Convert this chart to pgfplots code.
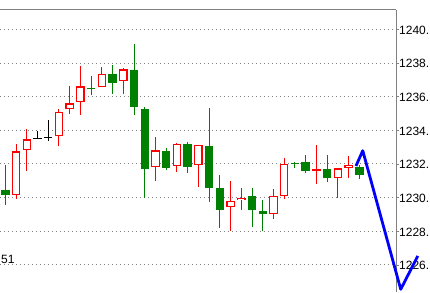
\documentclass[border=0pt]{standalone}
\usepackage{fontspec}
\setmainfont{Liberation Sans}
\usepackage{pgfplots}
\usepackage{pgfplotstable}
\pgfplotsset{compat=1.18}
\definecolor{cgreen}{RGB}{0,128,0}
\definecolor{cred}{RGB}{255,0,0}
\definecolor{cblue}{RGB}{0,0,255}
\definecolor{cgray}{RGB}{128,128,128}

% rising candles (close > open), drawn hollow red
\pgfplotstableread{
x  o       c       h       l
2  1230.14 1232.75 1233.18 1229.93
3  1232.81 1233.46 1234.06 1231.58
6  1233.64 1235.07 1235.26 1233.05
7  1235.25 1235.60 1236.63 1234.99
8  1235.66 1236.61 1237.82 1234.93
10 1236.55 1237.33 1237.74 1236.55
12 1236.91 1237.62 1237.70 1236.17
15 1231.80 1232.81 1233.60 1231.00
17 1231.86 1233.17 1233.23 1231.54
19 1231.92 1233.11 1233.11 1230.65
22 1229.42 1229.78 1230.99 1228.03
23 1229.84 1229.99 1230.57 1229.28
26 1229.03 1230.08 1230.51 1228.71
27 1230.08 1231.98 1232.34 1229.93
30 1231.58 1231.70 1233.13 1230.83
32 1231.16 1231.74 1231.74 1229.96
33 1231.74 1231.92 1232.47 1231.16
}\redtab

% falling candles (close < open), drawn filled green
\pgfplotstableread{
x  o       c       h       l
1  1230.45 1230.18 1231.94 1229.56
9  1236.51 1236.45 1237.23 1236.08
11 1237.34 1236.83 1237.88 1236.17
13 1237.58 1235.40 1239.13 1234.89
14 1235.26 1231.72 1235.38 1229.99
16 1232.77 1231.78 1232.93 1231.66
18 1233.17 1231.84 1233.29 1231.48
20 1233.07 1230.59 1235.32 1229.76
21 1230.55 1229.28 1231.34 1228.21
24 1230.10 1229.28 1230.57 1228.27
25 1229.22 1229.04 1229.86 1228.02
28 1232.03 1231.97 1232.10 1231.76
29 1232.10 1231.60 1232.53 1231.44
31 1231.68 1231.15 1232.53 1230.94
34 1231.84 1231.36 1231.95 1231.11
}\greentab

% doji candles, drawn black
\pgfplotstableread{
x  o       c       h       l
4  1233.55 1233.49 1233.96 1233.49
5  1233.63 1233.57 1234.61 1233.38
}\blacktab

\begin{document}
\begin{tikzpicture}
\begin{axis}[
  at={(0,0)}, anchor=south west,
  scale only axis, width=396pt, height=282pt,
  xmin=0.506, xmax=37.42, ymin=1224.39, ymax=1241.15,
  clip=false,
  axis x line*=top, axis y line*=right,
  x axis line style={-, draw=cgray, line width=1pt},
  y axis line style={-, draw=cgray, line width=1pt},
  xtick=\empty,
  ytick={1226,1228,...,1240},
  tick align=outside, major tick length=3pt,
  ytick style={draw=cgray, line width=0.8pt},
  ymajorgrids,
  grid style={draw=cgray, dash pattern=on 1pt off 3pt, line width=1pt},
  yticklabel={\pgfmathprintnumber[fixed, precision=0, 1000 sep={}, assume math mode=true]{\tick}.},
  yticklabel style={font=\fontsize{12}{13}\selectfont, anchor=west, inner sep=0pt, xshift=0pt, yshift=-0.8pt},
]
% wicks
\addplot[draw=none, mark=none, forget plot, error bars/.cd, y dir=plus, y explicit, error mark=none,
  error bar style={draw=cred, line width=1pt}]
  table[x=x, y=l, y error expr=\thisrow{h}-\thisrow{l}] {\redtab};
\addplot[draw=none, mark=none, forget plot, error bars/.cd, y dir=plus, y explicit, error mark=none,
  error bar style={draw=cgreen, line width=1pt}]
  table[x=x, y=l, y error expr=\thisrow{h}-\thisrow{l}] {\greentab};
\addplot[draw=none, mark=none, forget plot, error bars/.cd, y dir=plus, y explicit, error mark=none,
  error bar style={draw=black, line width=1pt}]
  table[x=x, y=l, y error expr=\thisrow{h}-\thisrow{l}] {\blacktab};
% bodies
\addplot[draw=none, mark=none, forget plot, error bars/.cd, y dir=plus, y explicit, error mark=none,
  error bar style={draw=cred, line width=8.5pt}]
  table[x=x, y expr={min(\thisrow{o},\thisrow{c})}, y error expr={abs(\thisrow{c}-\thisrow{o})}] {\redtab};
\addplot[draw=none, mark=none, forget plot, error bars/.cd, y dir=plus, y explicit, error mark=none,
  error bar style={draw=white, line width=6.1pt}]
  table[x=x, y expr={min(\thisrow{o},\thisrow{c})+0.07}, y error expr={max(abs(\thisrow{c}-\thisrow{o})-0.14,0)}] {\redtab};
\addplot[draw=none, mark=none, forget plot, error bars/.cd, y dir=plus, y explicit, error mark=none,
  error bar style={draw=cgreen, line width=8.5pt}]
  table[x=x, y expr={min(\thisrow{o},\thisrow{c})}, y error expr={abs(\thisrow{c}-\thisrow{o})}] {\greentab};
\addplot[draw=none, mark=none, forget plot, error bars/.cd, y dir=plus, y explicit, error mark=none,
  error bar style={draw=black, line width=8.5pt}]
  table[x=x, y expr={min(\thisrow{o},\thisrow{c})}, y error expr={abs(\thisrow{c}-\thisrow{o})}] {\blacktab};
% forecast line
\addplot[cblue, line width=2.8pt, line join=round, mark=none] coordinates {
  (33.69,1231.88) (34.32,1232.79) (37.86,1224.55) (39.45,1226.53)
};
\end{axis}
\node[anchor=west, inner sep=0pt, font=\fontsize{12}{13}\selectfont] at (1pt,32.5pt) {51};
\pgfresetboundingbox
\useasboundingbox (0,0) rectangle (430pt,292pt);
\end{tikzpicture}
\end{document}
